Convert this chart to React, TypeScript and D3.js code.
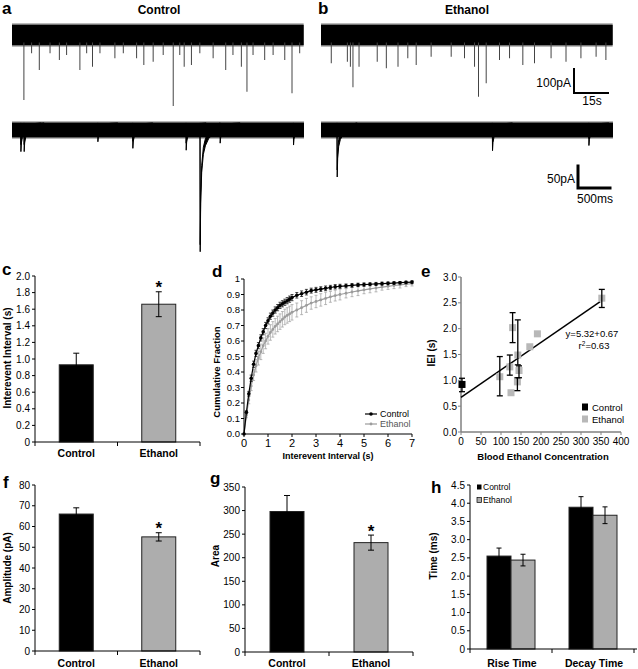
import React from 'react';
import * as d3 from 'd3';

const FONT = '"Liberation Sans", Arial, Helvetica, sans-serif';
const BAR_GRAY = '#adadad';
const PT_GRAY = '#b8b8b8';
const LINE_GRAY = '#9c9c9c';

// ---------- a / b : raw traces ----------
// top row, 125 s sweep: event times (s) and peak amplitudes (pA)
const ctrlSpikeT = [5.1, 8.4, 11.7, 16.3, 20.3, 23.4, 29.1, 32.0, 34.5, 37.7, 44.1, 47.7, 53.4, 56.5, 60.5, 64.8, 69.1, 71.9, 73.8, 76.9, 80.5, 86.2, 91.6, 94.7, 98.3, 100.7, 103.3, 108.3, 111.9, 116.9, 120.0, 123.3];
const ctrlSpikeAmp = [260, 73, 140, 73, 100, 80, 140, 73, 127, 73, 93, 73, 93, 120, 107, 80, 284, 80, 127, 120, 73, 93, 140, 80, 127, 227, 80, 100, 80, 100, 233, 73];
const ethSpikeT = [4.4, 11.3, 12.6, 13.7, 16.3, 24.1, 28.0, 33.0, 37.2, 40.8, 47.2, 55.8, 61.5, 65.8, 67.5, 70.8, 76.5, 80.8, 86.5, 91.5, 98.6, 105.0, 111.4, 117.9, 122.1];
const ethSpikeAmp = [113, 107, 127, 209, 127, 107, 133, 127, 93, 120, 87, 87, 93, 127, 247, 193, 100, 93, 120, 113, 93, 107, 93, 87, 100];

// bottom row, expanded sweep: event onsets (ms) and amplitudes (pA)
const ctrlEventT = [130, 179, 1279, 1801, 2597, 2806, 3104, 4199];
const ctrlEventAmp = [46, 46, 25, 39, 43, 259, 28, 32];
const ethEventT = [239, 2557, 3996];
const ethEventAmp = [100, 44, 33];
// sEPSC waveform template: time after onset (ms), fraction of peak
const shapeMs = [0, 3, 10, 25, 50, 80, 130, 200, 300];
const shapeFrac = [0, 1, 0.6, 0.35, 0.2, 0.13, 0.07, 0.03, 0];

// ---------- c / f / g : bar charts ----------
const groups = ['Control', 'Ethanol'];
const ieiMean = [0.93, 1.66];
const ieiSem = [0.14, 0.15];
const ampMean = [66, 55];
const ampSem = [3, 2];
const areaMean = [298, 232];
const areaSem = [34, 16];

// ---------- d : cumulative fraction ----------
const cumT = [0, 0.1, 0.2, 0.3, 0.4, 0.5, 0.6, 0.7, 0.8, 0.9, 1.0, 1.1, 1.2, 1.3, 1.4, 1.5, 1.6, 1.7, 1.8, 1.9, 2.0,
  2.2, 2.4, 2.6, 2.8, 3.0, 3.2, 3.4, 3.6, 3.8, 4.0,
  4.25, 4.5, 4.75, 5.0, 5.25, 5.5, 5.75, 6.0, 6.25, 6.5, 6.75, 7.0];
const cumCtrl = [0, 0.14, 0.26, 0.36, 0.45, 0.52, 0.57, 0.62, 0.66, 0.70, 0.73, 0.76, 0.78, 0.80, 0.815, 0.83, 0.84, 0.85, 0.86, 0.87, 0.88,
  0.895, 0.905, 0.915, 0.925, 0.93, 0.935, 0.94, 0.945, 0.95, 0.953,
  0.956, 0.959, 0.962, 0.964, 0.966, 0.968, 0.970, 0.972, 0.974, 0.976, 0.978, 0.98];
const cumCtrlErr = [0, 0.01, 0.015, 0.02, 0.02, 0.02, 0.02, 0.02, 0.02, 0.02, 0.02, 0.02, 0.02, 0.02, 0.02, 0.02, 0.02, 0.02, 0.02, 0.02, 0.02,
  0.018, 0.018, 0.018, 0.016, 0.016, 0.015, 0.015, 0.014, 0.014, 0.013,
  0.012, 0.012, 0.011, 0.011, 0.01, 0.01, 0.01, 0.009, 0.009, 0.008, 0.008, 0.008];
const cumEth = [0, 0.12, 0.22, 0.31, 0.38, 0.44, 0.49, 0.53, 0.57, 0.60, 0.63, 0.655, 0.675, 0.695, 0.71, 0.725, 0.74, 0.755, 0.765, 0.775, 0.785,
  0.80, 0.815, 0.83, 0.845, 0.855, 0.865, 0.875, 0.885, 0.893, 0.90,
  0.908, 0.916, 0.923, 0.93, 0.936, 0.942, 0.948, 0.953, 0.958, 0.962, 0.966, 0.97];
const cumEthErr = [0, 0.015, 0.025, 0.03, 0.035, 0.04, 0.045, 0.05, 0.05, 0.05, 0.05, 0.05, 0.05, 0.05, 0.05, 0.05, 0.05, 0.05, 0.05, 0.05, 0.05,
  0.045, 0.045, 0.045, 0.04, 0.04, 0.04, 0.04, 0.035, 0.035, 0.035,
  0.03, 0.03, 0.03, 0.025, 0.025, 0.025, 0.02, 0.02, 0.02, 0.02, 0.015, 0.015];

// ---------- e : IEI vs blood ethanol ----------
const ctrlBEC = [0];
const ctrlIEI = [0.92];
const ctrlLo = [0.78];
const ctrlHi = [1.04];
const ethBEC = [97, 122, 125, 129, 141, 142, 145, 172, 191, 352];
const ethIEI = [1.07, 1.26, 0.76, 2.02, 0.97, 1.49, 1.19, 1.65, 1.90, 2.59];
const ethLo = [0.70, 1.10, null, 1.73, 0.80, 1.30, 1.05, null, null, 2.41];
const ethHi = [1.46, 1.49, null, 2.31, 1.05, 2.17, 1.28, null, null, 2.76];
const fitSlope = 0.00532;
const fitIntercept = 0.67;
const fitRange = [0, 348];

// ---------- h : kinetics ----------
const kinCats = ['Rise Time', 'Decay Time'];
const kinCtrl = [2.55, 3.89];
const kinCtrlSem = [0.22, 0.29];
const kinEth = [2.44, 3.67];
const kinEthSem = [0.16, 0.23];

// trace calibration (from the scale bars)
const topAmpPx = d3.scaleLinear().domain([0, 100]).range([0, 25]);
const topTimePx = d3.scaleLinear().domain([0, 15]).range([0, 35]);
const botAmpPx = d3.scaleLinear().domain([0, 50]).range([0, 23.5]);
const botTimePx = d3.scaleLinear().domain([0, 500]).range([0, 33.5]);
const TOP_DUR = 125;
const BOT_DUR = 4358;

function TopTrace({ x0, yc, spikeT, spikeAmp }: any) {
  const x = (t: number) => x0 + topTimePx(t);
  const y = (pA: number) => yc + topAmpPx(pA); // downward currents
  return (
    <g>
      <rect x={x(0)} y={y(-46)} width={x(TOP_DUR) - x(0)} height={y(46) - y(-46)} fill="#777" />
      <rect x={x(0)} y={y(-40)} width={x(TOP_DUR) - x(0)} height={y(40) - y(-40)} fill="#000" />
      {spikeT.map((t: number, i: number) => (
        <line key={i} x1={x(t)} x2={x(t)} y1={y(30)} y2={y(spikeAmp[i])} stroke="#444" strokeWidth={1} />
      ))}
    </g>
  );
}

function BottomTrace({ id, x0, yc, evT, evAmp }: any) {
  const x = (t: number) => x0 + botTimePx(t);
  const y = (pA: number) => yc + botAmpPx(pA);
  const area = d3.area<[number, number]>()
    .x(d => x(d[0]))
    .y0(d => y(d[1]))
    .y1(d => y(d[1] - 15));
  return (
    <g>
      <clipPath id={id}>
        <rect x={x(0) - 1} y={0} width={x(BOT_DUR) - x(0) + 1} height={669} />
      </clipPath>
      <rect x={x(0)} y={y(-18)} width={x(BOT_DUR) - x(0)} height={y(18) - y(-18)} fill="#666" />
      <rect x={x(0)} y={y(-15)} width={x(BOT_DUR) - x(0)} height={y(15) - y(-15)} fill="#000" />
      <g clipPath={`url(#${id})`}>
        {evT.map((t0: number, i: number) => {
          const pts: [number, number][] = shapeMs.map((dt, j) => [t0 + dt, shapeFrac[j] * evAmp[i]]);
          return <path key={i} d={area(pts) || ''} fill="#000" stroke="#000" strokeWidth={1} />;
        })}
      </g>
    </g>
  );
}

function Traces() {
  return (
    <g>
      <text x={2} y={14} fontSize={17} fontWeight="bold">a</text>
      <text x={159} y={13.5} fontSize={12} fontWeight="bold" textAnchor="middle">Control</text>
      <text x={318} y={13.5} fontSize={17} fontWeight="bold">b</text>
      <text x={467} y={13.5} fontSize={12} fontWeight="bold" textAnchor="middle">Ethanol</text>
      <TopTrace x0={12} yc={35} spikeT={ctrlSpikeT} spikeAmp={ctrlSpikeAmp} />
      <TopTrace x0={321} yc={35} spikeT={ethSpikeT} spikeAmp={ethSpikeAmp} />
      <BottomTrace id="clipA" x0={12} yc={130} evT={ctrlEventT} evAmp={ctrlEventAmp} />
      <BottomTrace id="clipB" x0={321} yc={130} evT={ethEventT} evAmp={ethEventAmp} />
      {/* scale bar 100 pA / 15 s */}
      <path d={`M574,68 V${68 + topAmpPx(100)} H${574 + topTimePx(15)}`} fill="none" stroke="#000" strokeWidth={2} />
      <text x={571} y={87} fontSize={12} textAnchor="end">100pA</text>
      <text x={592} y={105} fontSize={12} textAnchor="middle">15s</text>
      {/* scale bar 50 pA / 500 ms */}
      <path d={`M578,164.5 V${164.5 + botAmpPx(50)} H${578 + botTimePx(500)}`} fill="none" stroke="#000" strokeWidth={3} />
      <text x={575} y={183} fontSize={12} textAnchor="end">50pA</text>
      <text x={595} y={203} fontSize={12} textAnchor="middle">500ms</text>
    </g>
  );
}

function ErrBar({ x, y1, y2, cap, stroke = '#000', w = 1 }: any) {
  return (
    <g stroke={stroke} strokeWidth={w}>
      <line x1={x} x2={x} y1={y1} y2={y2} />
      <line x1={x - cap} x2={x + cap} y1={y1} y2={y1} />
      <line x1={x - cap} x2={x + cap} y1={y2} y2={y2} />
    </g>
  );
}

function BarPanel({ x0, x1, yTop, yBot, yMax, step, dec, means, sems, letter, lx, ly, title, tx, ty, catY }: any) {
  const x = d3.scaleBand<string>().domain(groups).range([x0, x1]);
  const y = d3.scaleLinear().domain([0, yMax]).range([yBot, yTop]);
  const ticks = d3.range(0, yMax + step / 2, step);
  const bw = 34;
  const fills = ['#000', BAR_GRAY];
  return (
    <g>
      <text x={lx} y={ly} fontSize={17} fontWeight="bold">{letter}</text>
      <text transform={`translate(${tx},${ty}) rotate(-90)`} textAnchor="middle" dy="0.35em" fontSize={10} fontWeight="bold">{title}</text>
      {ticks.map(v => (
        <g key={v}>
          <line x1={x0 - 3} x2={x0} y1={y(v)} y2={y(v)} stroke="#000" />
          <text x={x0 - 5} y={y(v)} dy="0.35em" textAnchor="end" fontSize={10}>{v === 0 ? '0' : v.toFixed(dec)}</text>
        </g>
      ))}
      {groups.map((g, i) => {
        const cx = (x(g) as number) + x.bandwidth() / 2;
        return (
          <g key={g}>
            <rect x={cx - bw / 2} y={y(means[i])} width={bw} height={yBot - y(means[i])} fill={fills[i]} stroke="#222" strokeWidth={1} />
            <ErrBar x={cx} y1={y(means[i] + sems[i])} y2={y(means[i] - sems[i])} cap={3} />
            <text x={cx} y={catY} textAnchor="middle" fontSize={10.5} fontWeight="bold">{g}</text>
            {i === 1 && (
              <text x={cx} y={y(means[i] + sems[i]) + 1.5} textAnchor="middle" fontSize={17} fontWeight="bold">*</text>
            )}
          </g>
        );
      })}
      <line x1={x0} x2={x0} y1={yTop} y2={yBot} stroke="#000" />
      <line x1={x0} x2={x1} y1={yBot} y2={yBot} stroke="#000" />
      {[x0, x0 + x.step(), x1].map(v => (
        <line key={v} x1={v} x2={v} y1={yBot} y2={yBot + 4} stroke="#000" />
      ))}
    </g>
  );
}

function CumPanel() {
  const x = d3.scaleLinear().domain([0, 7]).range([244, 412]);
  const y = d3.scaleLinear().domain([0, 1]).range([434, 279]);
  const line = d3.line<number>().x((_, i) => x(cumT[i])).y(d => y(d));
  const series = [
    { v: cumEth, e: cumEthErr, c: LINE_GRAY, r: 1.4 },
    { v: cumCtrl, e: cumCtrlErr, c: '#000', r: 1.8 },
  ];
  return (
    <g>
      <text x={212} y={277} fontSize={17} fontWeight="bold">d</text>
      <text transform="translate(217,372) rotate(-90)" textAnchor="middle" dy="0.35em" fontSize={9.5} fontWeight="bold">Cumulative Fraction</text>
      <text x={328} y={459} textAnchor="middle" fontSize={9} fontWeight="bold">Interevent Interval (s)</text>
      {d3.range(0, 1.0001, 0.1).map(v => (
        <g key={v}>
          <line x1={241} x2={244} y1={y(v)} y2={y(v)} stroke="#000" />
          <text x={240} y={y(v)} dy="0.35em" textAnchor="end" fontSize={9.5}>{v > 0.99 ? '1' : v.toFixed(1)}</text>
        </g>
      ))}
      {d3.range(0, 8).map(v => (
        <g key={v}>
          <line x1={x(v)} x2={x(v)} y1={434} y2={437} stroke="#000" />
          <text x={x(v)} y={447} textAnchor="middle" fontSize={11}>{v}</text>
        </g>
      ))}
      {series.map((s, k) => (
        <g key={k}>
          {s.v.map((v, i) => s.e[i] > 0 && (
            <ErrBar key={i} x={x(cumT[i])} y1={y(v + s.e[i])} y2={y(v - s.e[i])} cap={1.5} stroke={s.c} w={0.7} />
          ))}
          <path d={line(s.v) || ''} fill="none" stroke={s.c} strokeWidth={1.2} />
          {s.v.map((v, i) => (
            <circle key={i} cx={x(cumT[i])} cy={y(v)} r={s.r} fill={s.c} />
          ))}
        </g>
      ))}
      <line x1={244} x2={244} y1={279} y2={434} stroke="#000" />
      <line x1={244} x2={412} y1={434} y2={434} stroke="#000" />
      {/* legend */}
      <line x1={365} x2={377} y1={414} y2={414} stroke="#000" strokeWidth={1.2} />
      <circle cx={371} cy={414} r={1.8} fill="#000" />
      <text x={380} y={417} fontSize={9}>Control</text>
      <line x1={365} x2={377} y1={424} y2={424} stroke={LINE_GRAY} strokeWidth={1.2} />
      <circle cx={371} cy={424} r={1.4} fill={LINE_GRAY} />
      <text x={380} y={427} fontSize={9} fill="#555">Ethanol</text>
    </g>
  );
}

function ScatterPanel() {
  const x = d3.scaleLinear().domain([0, 400]).range([461, 621]);
  const y = d3.scaleLinear().domain([0, 3]).range([432, 277]);
  const axis = '#808080';
  const sq = 7;
  return (
    <g>
      <text x={421} y={277} fontSize={17} fontWeight="bold">e</text>
      <text transform="translate(431,353) rotate(-90)" textAnchor="middle" dy="0.35em" fontSize={10} fontWeight="bold">IEI (s)</text>
      <text x={543} y={460} textAnchor="middle" fontSize={9.5} fontWeight="bold">Blood Ethanol Concentration</text>
      {d3.range(0, 3.0001, 0.5).map(v => (
        <g key={v}>
          <line x1={458} x2={461} y1={y(v)} y2={y(v)} stroke={axis} />
          <text x={457} y={y(v)} dy="0.35em" textAnchor="end" fontSize={10}>{v.toFixed(1)}</text>
        </g>
      ))}
      {d3.range(0, 401, 50).map(v => (
        <g key={v}>
          <line x1={x(v)} x2={x(v)} y1={432} y2={435} stroke={axis} />
          <text x={x(v)} y={445} textAnchor="middle" fontSize={10}>{v}</text>
        </g>
      ))}
      <line x1={461} x2={461} y1={277} y2={432} stroke={axis} strokeWidth={1.5} />
      <line x1={461} x2={621} y1={432} y2={432} stroke={axis} strokeWidth={1.5} />
      <line x1={x(fitRange[0])} y1={y(fitIntercept + fitSlope * fitRange[0])}
        x2={x(fitRange[1])} y2={y(fitIntercept + fitSlope * fitRange[1])} stroke="#000" strokeWidth={1.5} />
      {ethBEC.map((b, i) => (
        <rect key={i} x={x(b) - sq / 2} y={y(ethIEI[i]) - sq / 2} width={sq} height={sq} fill={PT_GRAY} />
      ))}
      {ctrlBEC.map((b, i) => (
        <rect key={i} x={x(b) - sq / 2 + 1} y={y(ctrlIEI[i]) - sq / 2} width={sq} height={sq} fill="#000" />
      ))}
      {ethBEC.map((b, i) => ethLo[i] != null && (
        <ErrBar key={i} x={x(b)} y1={y(ethHi[i] as number)} y2={y(ethLo[i] as number)} cap={3} w={1.3} />
      ))}
      {ctrlBEC.map((b, i) => (
        <ErrBar key={i} x={x(b) + 1} y1={y(ctrlHi[i])} y2={y(ctrlLo[i])} cap={3} w={1.3} />
      ))}
      <text x={592} y={337} textAnchor="middle" fontSize={9.5}>y=5.32+0.67</text>
      <text x={594} y={349} textAnchor="middle" fontSize={9.5}>r<tspan dy={-3} fontSize={6.5}>2</tspan><tspan dy={3}>=0.63</tspan></text>
      <rect x={582} y={403.5} width={6} height={7} fill="#000" />
      <text x={592} y={410.5} fontSize={9.5}>Control</text>
      <rect x={582} y={415.5} width={6} height={7} fill={PT_GRAY} />
      <text x={592} y={422.5} fontSize={9.5}>Ethanol</text>
    </g>
  );
}

function KineticsPanel() {
  const x0 = 470, x1 = 634, yTop = 485, yBot = 649;
  const x = d3.scaleBand<string>().domain(kinCats).range([x0, x1]);
  const y = d3.scaleLinear().domain([0, 4.5]).range([yBot, yTop]);
  const bw = 24;
  const series = [
    { v: kinCtrl, e: kinCtrlSem, fill: '#000', off: -bw },
    { v: kinEth, e: kinEthSem, fill: BAR_GRAY, off: 0 },
  ];
  return (
    <g>
      <text x={431} y={493} fontSize={17} fontWeight="bold">h</text>
      <text transform="translate(433,556) rotate(-90)" textAnchor="middle" dy="0.35em" fontSize={10} fontWeight="bold">Time (ms)</text>
      {d3.range(0, 4.5001, 0.5).map(v => (
        <g key={v}>
          <line x1={x0 - 3} x2={x0} y1={y(v)} y2={y(v)} stroke="#000" />
          <text x={x0 - 5} y={y(v)} dy="0.35em" textAnchor="end" fontSize={10}>{v === 0 ? '0' : v.toFixed(1)}</text>
        </g>
      ))}
      {kinCats.map((c, i) => {
        const cx = (x(c) as number) + x.bandwidth() / 2;
        return (
          <g key={c}>
            {series.map((s, k) => (
              <g key={k}>
                <rect x={cx + s.off} y={y(s.v[i])} width={bw} height={yBot - y(s.v[i])} fill={s.fill} stroke="#222" />
                <ErrBar x={cx + s.off + bw / 2} y1={y(s.v[i] + s.e[i])} y2={y(s.v[i] - s.e[i])} cap={2.5} />
              </g>
            ))}
            <text x={cx + 1} y={667} textAnchor="middle" fontSize={10.5} fontWeight="bold">{c}</text>
          </g>
        );
      })}
      <line x1={x0} x2={x0} y1={yTop} y2={yBot} stroke="#000" />
      <line x1={x0} x2={637} y1={yBot} y2={yBot} stroke="#000" />
      {[x0, x0 + x.step(), x1].map(v => (
        <line key={v} x1={v} x2={v} y1={yBot} y2={yBot + 4} stroke="#000" />
      ))}
      <rect x={477} y={484.5} width={4.5} height={5} fill="#000" />
      <text x={483} y={490} fontSize={8.5}>Control</text>
      <rect x={477} y={497.5} width={4.5} height={5} fill={BAR_GRAY} stroke="#000" strokeWidth={0.7} />
      <text x={483} y={503} fontSize={8.5}>Ethanol</text>
    </g>
  );
}

export default function App() {
  return (
    <svg width={638} height={669} viewBox="0 0 638 669" fontFamily={FONT}
      style={{ position: 'absolute', left: 0, top: 0, display: 'block', background: '#fff' }}>
      <rect width={638} height={669} fill="#fff" />
      <Traces />
      <BarPanel x0={35} x1={200} yTop={276} yBot={442} yMax={2} step={0.2} dec={1}
        means={ieiMean} sems={ieiSem} letter="c" lx={2} ly={275}
        title="Interevent Interval (s)" tx={7} ty={358} catY={457} />
      <CumPanel />
      <ScatterPanel />
      <BarPanel x0={35} x1={200} yTop={485} yBot={651} yMax={80} step={10} dec={0}
        means={ampMean} sems={ampSem} letter="f" lx={3} ly={488}
        title="Amplitude (pA)" tx={7} ty={568} catY={667} />
      <BarPanel x0={245} x1={413} yTop={487} yBot={652} yMax={350} step={50} dec={0}
        means={areaMean} sems={areaSem} letter="g" lx={210} ly={484}
        title="Area" tx={215} ty={556} catY={667} />
      <KineticsPanel />
    </svg>
  );
}
